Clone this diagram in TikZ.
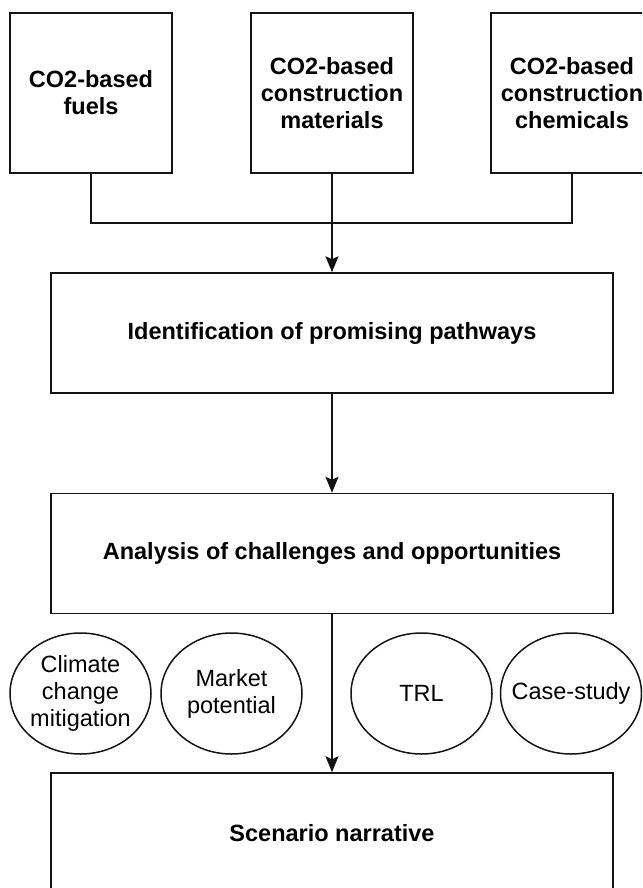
\documentclass[tikz,border=0pt]{standalone}
\usepackage{fontspec}
\setmainfont{Liberation Sans}
\usetikzlibrary{shapes.geometric,arrows.meta}
\definecolor{pathLine}{RGB}{20, 20, 20}

\begin{document}
\begin{tikzpicture}[x=1pt, y=-1pt, line width=1.5pt, draw=pathLine,
    font=\fontsize{23.5}{27}\selectfont,
    product/.style={draw=pathLine,minimum width=162pt,minimum height=160pt,align=center,font=\fontsize{23.5}{27}\selectfont\bfseries},
    stage/.style={draw=pathLine,minimum width=562pt,minimum height=120pt,align=center,font=\fontsize{23.5}{27}\selectfont\bfseries},
    criterion/.style={draw=pathLine,ellipse,minimum width=141pt,minimum height=121pt,inner xsep=-12pt,inner ysep=0pt,align=center},
    flow/.style={-{Stealth[length=16pt,width=13pt,inset=3pt]}}]
            \useasboundingbox (0,0) rectangle (642,888);
            \clip (0,0) rectangle (642,888);
            % Product groups
            \node[product] (fuel) at (91,93) {CO2-based\\fuels};
            \node[product] (mat) at (332,93) {CO2-based\\construction\\materials};
            \node[product] (chem) at (572,93) {CO2-based\\construction\\chemicals};
            \coordinate (join) at (332,223);

            % Stages
            \node[stage] (ident) at (332,333) {Identification of promising pathways};
            \node[stage] (anal) at (332,553.5) {Analysis of challenges and opportunities};
            \node[stage] (scen) at (332,833) {Scenario narrative};

            \draw (fuel.south) |- (join) -| (chem.south);
            \draw[flow] (mat) -- (ident);
            \draw[flow] (ident) -- (anal);
            \draw[flow] (anal) -- (scen);

            % Criteria
            \node[criterion] (clim) at (80.5,693.5) {Climate\\change\\mitigation};
            \node[criterion] (mark) at (231.5,693.5) {Market\\potential};
            \node[criterion] (trl) at (421.5,693.5) {TRL};
            \node[criterion] (case) at (571,693.5) {Case-study};
        \end{tikzpicture}
\end{document}
